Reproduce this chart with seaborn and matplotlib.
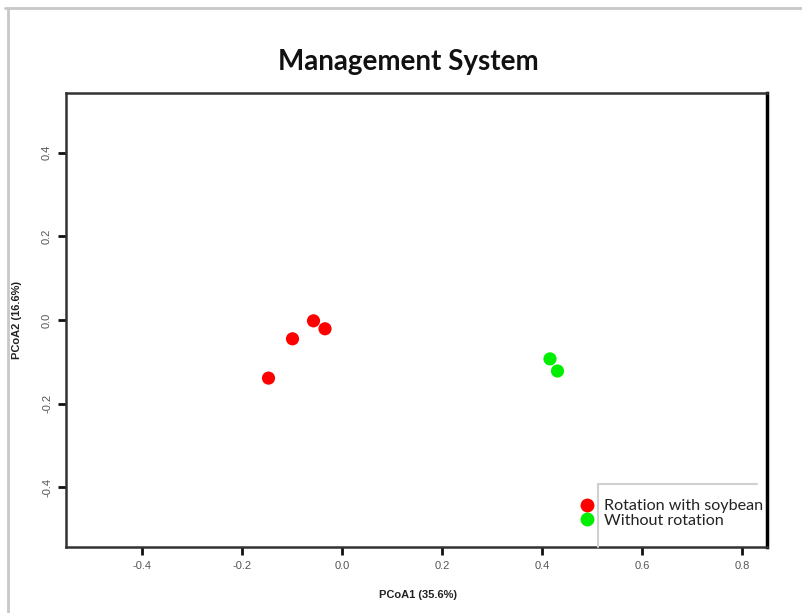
import matplotlib
matplotlib.use("Agg")
import matplotlib.pyplot as plt
import seaborn as sns
import pandas as pd
from matplotlib.lines import Line2D

# data
group = ["Rotation with soybean"] * 4 + ["Without rotation"] * 2
pcoa1 = [-0.147, -0.099, -0.057, -0.034, 0.416, 0.431]
pcoa2 = [-0.139, -0.045, -0.002, -0.021, -0.093, -0.122]
x_ticks = [-0.4, -0.2, 0.0, 0.2, 0.4, 0.6, 0.8]
y_ticks = [-0.4, -0.2, 0.0, 0.2, 0.4]
title = "Management System"
x_label = "PCoA1 (35.6%)"
y_label = "PCoA2 (16.6%)"
palette = {"Rotation with soybean": "#ff0000", "Without rotation": "#00ee00"}

df = pd.DataFrame({"PCoA1": pcoa1, "PCoA2": pcoa2, "group": group})

sns.set_style("white")
plt.rcParams["font.family"] = ["Liberation Sans", "DejaVu Sans"]

W, H = 803, 613
fig = plt.figure(figsize=(W / 100, H / 100), dpi=100)
ax = fig.add_axes([66 / W, 1 - 547 / H, (767 - 66) / W, (547 - 93) / H])

sns.scatterplot(data=df, x="PCoA1", y="PCoA2", hue="group", palette=palette,
                s=90, linewidth=0, ax=ax, legend=False)

ax.set_xlim(-0.552, 0.85)
ax.set_ylim(-0.543, 0.543)
ax.set_xticks(x_ticks)
ax.set_yticks(y_ticks)
ax.set_xticklabels([f"{v:.1f}" for v in x_ticks], fontsize=8, color="#555555")
ax.set_yticklabels([f"{v:.1f}" for v in y_ticks], fontsize=8, color="#555555",
                   rotation=90, va="center")
ax.tick_params(axis="x", direction="out", length=5.5, width=2.0, color="#111111",
               bottom=True, pad=4.5)
ax.tick_params(axis="y", direction="out", length=5.5, width=2.0, color="#111111",
               left=True, pad=4.5)
ax.set_xlabel("")
ax.set_ylabel("")

for side in ["left", "bottom", "top"]:
    ax.spines[side].set_color("#333333")
    ax.spines[side].set_linewidth(1.8)
ax.spines["right"].set_color("#000000")
ax.spines["right"].set_linewidth(2.5)

fig.text(418 / W, 1 - 595 / H, x_label, fontsize=8, fontweight="bold",
         ha="center", va="center", color="#222222")
fig.text(17 / W, 1 - 320 / H, y_label, fontsize=8, fontweight="bold",
         ha="center", va="center", rotation=90, color="#222222")
fig.text(408 / W, 1 - 62 / H, title, fontsize=20, fontweight="bold",
         ha="center", va="center", family=["Lato", "DejaVu Sans"], color="#111111")

# screenshot frame
fig.add_artist(Line2D([5 / W, 1], [1 - 8 / H, 1 - 8 / H], transform=fig.transFigure,
                      color="#c8c8c8", lw=2))
fig.add_artist(Line2D([8 / W, 8 / W], [0, 1 - 8 / H], transform=fig.transFigure,
                      color="#c8c8c8", lw=2))
# legend frame (left and top edges)
fig.add_artist(Line2D([598 / W, 598 / W], [1 - 547 / H, 1 - 484 / H],
                      transform=fig.transFigure, color="#d0d0d0", lw=1.5))
fig.add_artist(Line2D([598 / W, 757 / W], [1 - 484 / H, 1 - 484 / H],
                      transform=fig.transFigure, color="#d0d0d0", lw=1.5))

handles = [Line2D([], [], marker="o", linestyle="", markersize=10,
                  markerfacecolor=palette[g], markeredgewidth=0) for g in palette]
leg = fig.legend(handles, list(palette.keys()), loc="upper left",
                 bbox_to_anchor=(577 / W, 1 - 499 / H), frameon=False,
                 handlelength=1.2, handletextpad=0.45, labelspacing=0.0,
                 borderpad=0, borderaxespad=0,
                 prop={"family": ["Lato", "DejaVu Sans"], "size": 11.6})
for t in leg.get_texts():
    t.set_color("#222222")

fig.savefig("out.png", dpi=100, facecolor="white")
